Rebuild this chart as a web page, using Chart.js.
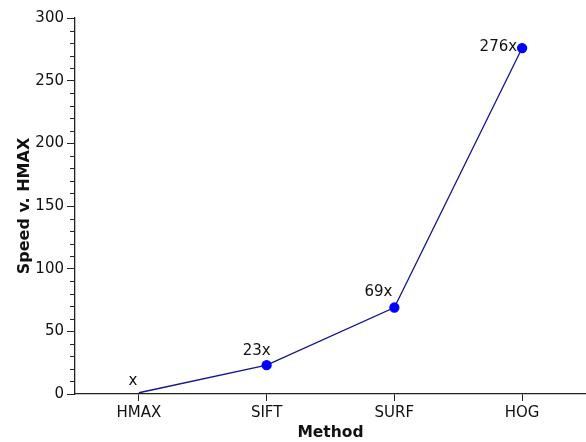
<!DOCTYPE html>
<html>
<head>
<meta charset="utf-8">
<script src="https://cdn.jsdelivr.net/npm/chart.js@4"></script>
<style>
html,body{margin:0;padding:0;background:#fff;}
#wrap{width:586px;height:442px;}
</style>
</head>
<body>
<div id="wrap"><canvas id="c" width="586" height="442"></canvas></div>
<script>
const categories = ["HMAX", "SIFT", "SURF", "HOG"];
const speedup = [1, 23, 69, 276];
const pointLabels = ["x", "23x", "69x", "276x"];
const yTicksMajor = [0, 50, 100, 150, 200, 250, 300];

// label placement relative to the point (style, not data)
const labelOffsets = [[-6, -12], [-10, -14], [-16, -15], [-23, -1]];

const FONT = "'DejaVu Sans', Verdana, sans-serif";
const AXIS = "#222";

const minorTicks = {
  id: 'minorTicks',
  afterDraw(chart) {
    const y = chart.scales.y, ctx = chart.ctx;
    ctx.save();
    ctx.strokeStyle = AXIS;
    ctx.lineWidth = 1;
    for (let v = 0; v <= 300; v += 10) {
      if (v % 50 === 0) continue;
      const py = Math.round(y.getPixelForValue(v)) + 0.5;
      ctx.beginPath();
      ctx.moveTo(y.right - 5, py);
      ctx.lineTo(y.right, py);
      ctx.stroke();
    }
    ctx.restore();
  }
};

const valueLabels = {
  id: 'valueLabels',
  afterDatasetsDraw(chart) {
    const meta = chart.getDatasetMeta(0), ctx = chart.ctx;
    ctx.save();
    ctx.font = "15px " + FONT;
    ctx.fillStyle = "#111";
    ctx.textAlign = "center";
    ctx.textBaseline = "middle";
    meta.data.forEach((pt, i) => {
      const o = labelOffsets[i];
      const w = ctx.measureText(pointLabels[i]).width;
      let cx = pt.x + o[0] + (i === 3 ? -w / 2 + 18 : 0);
      ctx.fillText(pointLabels[i], cx, pt.y + o[1]);
    });
    ctx.restore();
  }
};

new Chart(document.getElementById('c'), {
  type: 'line',
  data: {
    labels: categories,
    datasets: [{
      data: speedup,
      borderColor: '#14148c',
      borderWidth: 1.3,
      backgroundColor: '#0000ff',
      pointBackgroundColor: '#0000ff',
      pointBorderColor: '#0000ff',
      pointRadius: ctx => ctx.dataIndex === 0 ? 0 : 4.5,
      pointHoverRadius: 4.5,
      tension: 0,
      fill: false,
      clip: false
    }]
  },
  options: {
    responsive: false,
    animation: false,
    devicePixelRatio: 1,
    layout: { autoPadding: false, padding: { top: 18, right: 0, left: 0, bottom: 0 } },
    plugins: { legend: { display: false }, tooltip: { enabled: false } },
    scales: {
      x: {
        offset: true,
        grid: { display: true, drawOnChartArea: false, offset: false, tickLength: 7, color: AXIS, lineWidth: 1 },
        border: { display: true, color: AXIS, width: 1.3 },
        ticks: { font: { family: FONT, size: 15 }, color: '#111', padding: 3, maxRotation: 0 },
        title: { display: true, text: 'Method', font: { family: FONT, size: 15.5, weight: 'bold' }, color: '#111', padding: { top: 0, bottom: 0 } },
        afterFit(s) { s.height = 48; s.paddingLeft = 0; s.paddingRight = 0; }
      },
      y: {
        min: 0, max: 300,
        afterBuildTicks(s) { s.ticks = yTicksMajor.map(v => ({ value: v })); },
        grid: { display: true, drawOnChartArea: false, tickLength: 8, color: AXIS, lineWidth: 1 },
        border: { display: true, color: AXIS, width: 1.3 },
        ticks: { font: { family: FONT, size: 15 }, color: '#111', padding: 3 },
        title: { display: true, text: 'Speed v. HMAX', font: { family: FONT, size: 16, weight: 'bold' }, color: '#111', padding: { top: 15, bottom: 0 } },
        afterFit(s) { s.width = 75; }
      }
    }
  },
  plugins: [minorTicks, valueLabels]
});
</script>
</body>
</html>
